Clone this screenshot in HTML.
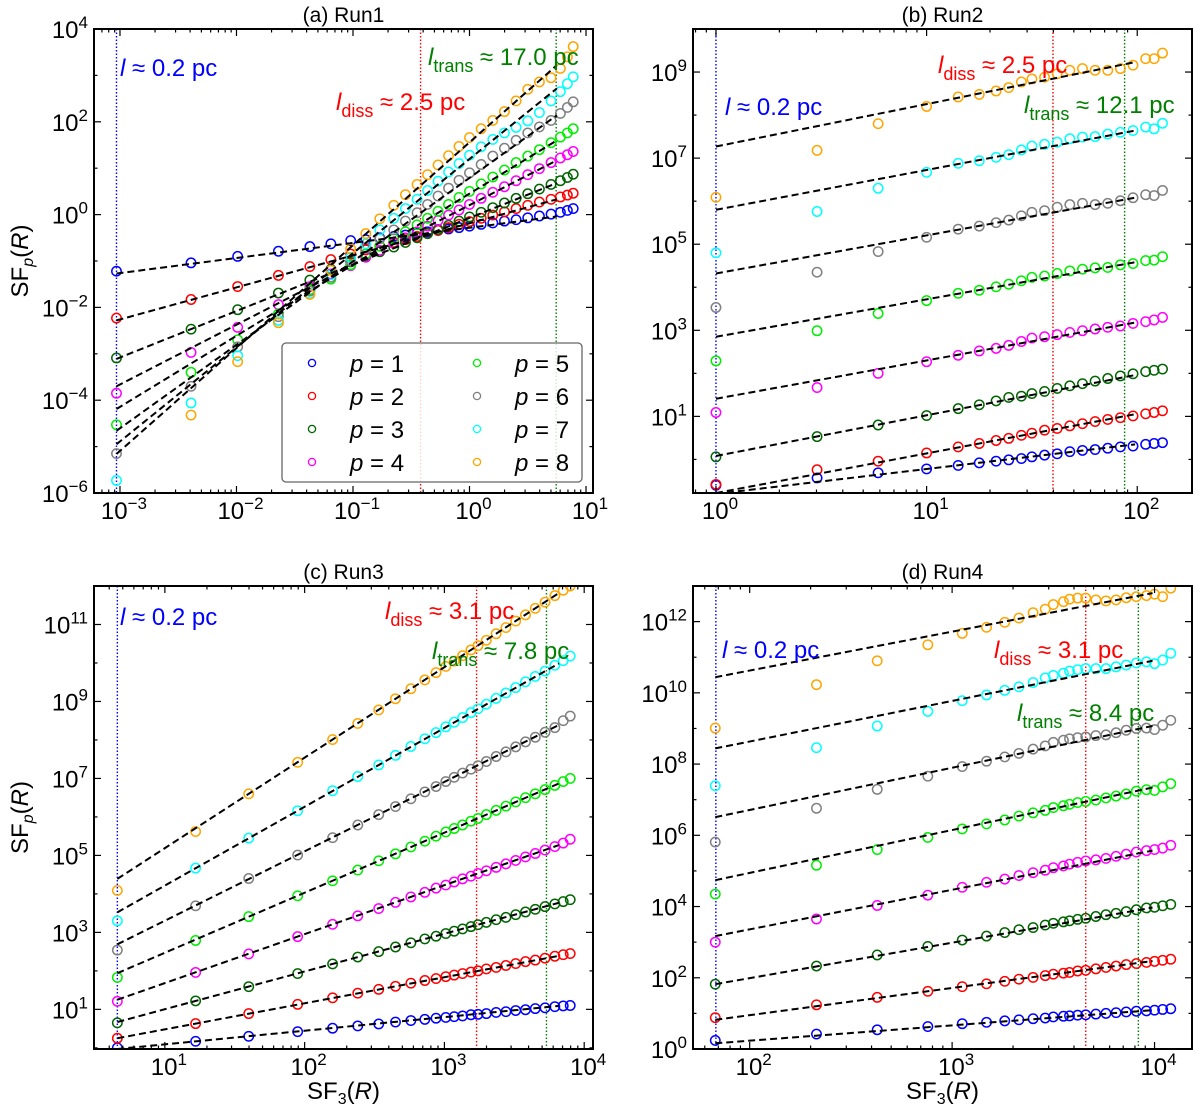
<!DOCTYPE html>
<html><head><meta charset="utf-8"><style>
html,body{margin:0;padding:0;background:#fff;}
svg{display:block;font-family:"Liberation Sans","DejaVu Sans",sans-serif;}
</style></head><body>
<svg id="fig" width="1200" height="1109" viewBox="0 0 1200 1109" xmlns="http://www.w3.org/2000/svg"></svg>
<script>
// ---------- DATA (log10 values) ----------
const colors = ["#0000ff","#ff0000","#006400","#ff00ff","#00ee00","#808080","#00ffff","#ffa500"];
const orders = [1,2,3,4,5,6,7,8];

// Run1
const run1_x = [-3.03,-2.39,-1.99,-1.64,-1.37,-1.19,-1.02,-0.89,-0.77,-0.65,-0.55,-0.45,-0.36,-0.27,-0.18,-0.09,0.0,0.1,0.2,0.3,0.4,0.5,0.6,0.7,0.78,0.84,0.89];
const run1_p1 = [-1.22,-1.04,-0.90,-0.79,-0.69,-0.63,-0.56,-0.54,-0.50,-0.47,-0.44,-0.40,-0.37,-0.34,-0.31,-0.28,-0.25,-0.21,-0.18,-0.14,-0.11,-0.07,-0.03,0.01,0.05,0.09,0.13];
const run1_p2 = [-2.23,-1.83,-1.55,-1.31,-1.12,-0.97,-0.85,-0.76,-0.68,-0.60,-0.54,-0.47,-0.40,-0.34,-0.28,-0.21,-0.15,-0.08,-0.01,0.06,0.13,0.20,0.27,0.33,0.38,0.42,0.46];
const run1_p3 = [-3.09,-2.47,-2.05,-1.69,-1.41,-1.18,-1.02,-0.90,-0.80,-0.70,-0.60,-0.50,-0.41,-0.32,-0.23,-0.14,-0.05,0.05,0.15,0.25,0.35,0.45,0.55,0.65,0.73,0.80,0.87];
const run1_p4 = [-3.85,-2.97,-2.43,-1.94,-1.55,-1.28,-1.10,-0.92,-0.77,-0.62,-0.50,-0.37,-0.25,-0.13,-0.01,0.10,0.22,0.35,0.48,0.60,0.73,0.86,0.99,1.12,1.22,1.29,1.36];
const run1_p5 = [-4.53,-3.40,-2.70,-2.14,-1.62,-1.39,-1.08,-0.85,-0.68,-0.52,-0.37,-0.22,-0.08,0.07,0.22,0.37,0.50,0.66,0.81,0.96,1.12,1.26,1.40,1.55,1.67,1.76,1.85];
const run1_p6 = [-5.15,-3.70,-2.85,-2.20,-1.65,-1.35,-1.00,-0.72,-0.52,-0.33,-0.14,0.04,0.22,0.40,0.57,0.74,0.90,1.08,1.26,1.43,1.60,1.76,1.89,2.03,2.18,2.31,2.43];
const run1_p7 = [-5.73,-4.06,-3.04,-2.28,-1.70,-1.30,-0.92,-0.63,-0.33,-0.08,0.13,0.33,0.52,0.72,0.92,1.10,1.28,1.46,1.62,1.76,1.88,2.02,2.20,2.45,2.65,2.82,2.97];
const run1_p8 = [null,-4.32,-3.17,-2.33,-1.72,-1.20,-0.74,-0.41,-0.09,0.20,0.43,0.65,0.86,1.07,1.27,1.47,1.66,1.85,2.03,2.22,2.45,2.70,2.86,2.95,3.15,3.40,3.62];
const run1_fitX = [-3.03,0.75];
const run1_fitStart = [-1.27,-2.28,-3.11,-3.70,-4.19,-4.66,-4.95,-5.16];
const run1_fitEnd = [-0.04,0.33,0.68,1.17,1.60,2.14,2.72,3.22];

// Run2
const run2_x = [0,0.48,0.77,1.0,1.15,1.25,1.33,1.39,1.45,1.50,1.56,1.62,1.68,1.74,1.80,1.86,1.92,1.98,2.04,2.08,2.12];
const run2_p1 = [-0.60,-0.43,-0.31,-0.22,-0.14,-0.08,-0.04,-0.01,0.02,0.06,0.10,0.13,0.18,0.21,0.23,0.26,0.29,0.31,0.35,0.37,0.39];
const run2_p2 = [-0.58,-0.24,-0.04,0.15,0.29,0.37,0.44,0.49,0.56,0.61,0.68,0.72,0.78,0.83,0.88,0.93,0.97,1.01,1.06,1.09,1.13];
const run2_p3 = [0.06,0.53,0.80,1.02,1.18,1.27,1.36,1.44,1.47,1.53,1.58,1.65,1.71,1.76,1.82,1.88,1.94,1.99,2.04,2.07,2.10];
const run2_p4 = [1.09,1.67,2.00,2.27,2.42,2.52,2.58,2.65,2.74,2.82,2.85,2.90,2.95,2.99,3.03,3.07,3.10,3.16,3.20,3.24,3.30];
const run2_p5 = [2.29,2.99,3.39,3.69,3.86,3.93,4.01,4.07,4.15,4.23,4.26,4.32,4.38,4.42,4.45,4.46,4.52,4.55,4.62,4.63,4.71];
const run2_p6 = [3.53,4.35,4.83,5.16,5.35,5.42,5.50,5.56,5.66,5.74,5.78,5.86,5.92,5.95,5.92,5.95,6.01,6.08,6.15,6.13,6.25];
const run2_p7 = [4.80,5.76,6.30,6.67,6.88,6.94,7.02,7.08,7.19,7.28,7.32,7.37,7.45,7.49,7.50,7.56,7.60,7.64,7.72,7.68,7.81];
const run2_p8 = [6.09,7.18,7.80,8.20,8.42,8.48,8.56,8.64,8.77,8.84,8.88,8.96,9.04,9.08,9.04,9.04,9.08,9.16,9.31,9.31,9.44];
const run2_fitX = [0,1.99];
const run2_fitStart = [-0.80,-0.78,0.08,1.41,2.85,4.32,5.80,7.27];
const run2_fitEnd = [0.35,1.05,1.96,3.18,4.58,6.08,7.64,9.23];

// Run3
const run3_x = [0.66,1.22,1.60,1.95,2.20,2.38,2.53,2.65,2.76,2.86,2.94,3.01,3.07,3.13,3.19,3.24,3.30,3.37,3.44,3.51,3.58,3.65,3.72,3.79,3.85,3.90];
const run3_p1 = [0.00,0.17,0.30,0.42,0.51,0.57,0.62,0.67,0.71,0.74,0.77,0.79,0.81,0.83,0.86,0.87,0.89,0.92,0.94,0.97,0.99,1.02,1.04,1.07,1.09,1.10];
const run3_p2 = [0.25,0.63,0.89,1.13,1.30,1.42,1.52,1.60,1.68,1.75,1.80,1.85,1.89,1.93,1.97,2.00,2.05,2.09,2.14,2.19,2.24,2.28,2.33,2.38,2.42,2.45];
const run3_p3 = [0.65,1.22,1.59,1.93,2.18,2.36,2.50,2.62,2.73,2.83,2.90,2.97,3.03,3.09,3.15,3.20,3.26,3.33,3.39,3.46,3.53,3.60,3.67,3.74,3.80,3.85];
const run3_p4 = [1.21,1.96,2.44,2.89,3.21,3.43,3.62,3.78,3.92,4.04,4.15,4.23,4.31,4.39,4.46,4.53,4.60,4.69,4.78,4.87,4.96,5.05,5.14,5.23,5.32,5.42];
const run3_p5 = [1.83,2.79,3.41,3.95,4.34,4.62,4.86,5.04,5.22,5.37,5.50,5.61,5.70,5.79,5.89,5.96,6.06,6.17,6.28,6.39,6.50,6.60,6.71,6.82,6.92,7.00];
const run3_p6 = [2.54,3.69,4.40,5.01,5.46,5.79,6.06,6.27,6.47,6.65,6.79,6.92,7.03,7.14,7.24,7.33,7.44,7.57,7.69,7.82,7.95,8.07,8.20,8.32,8.50,8.62];
const run3_p7 = [3.30,4.67,5.45,6.16,6.68,7.05,7.35,7.60,7.83,8.03,8.19,8.34,8.46,8.58,8.71,8.81,8.93,9.08,9.22,9.36,9.51,9.65,9.79,9.94,10.06,10.18];
const run3_p8 = [4.09,5.62,6.60,7.42,8.01,8.43,8.78,9.07,9.33,9.56,9.75,9.91,10.05,10.19,10.34,10.45,10.59,10.76,10.92,11.09,11.25,11.42,11.58,11.75,11.89,12.00];
const run3_fitX = [0.66,3.82];
const run3_fitStart = [-0.03,0.25,0.67,1.25,1.94,2.69,3.52,4.39];
const run3_fitEnd = [1.09,2.39,3.77,5.27,6.87,8.39,9.99,11.82];

// Run4
const run4_x = [1.83,2.33,2.63,2.88,3.05,3.17,3.26,3.33,3.40,3.46,3.50,3.55,3.58,3.62,3.66,3.71,3.76,3.81,3.86,3.91,3.96,4.00,4.04,4.08];
const run4_p1 = [0.24,0.42,0.54,0.63,0.71,0.75,0.79,0.82,0.85,0.87,0.90,0.92,0.93,0.95,0.96,0.98,1.00,1.02,1.04,1.06,1.07,1.09,1.11,1.13];
const run4_p2 = [0.88,1.24,1.45,1.62,1.75,1.83,1.90,1.96,2.01,2.06,2.10,2.13,2.15,2.19,2.21,2.25,2.29,2.33,2.37,2.40,2.43,2.46,2.49,2.52];
const run4_p3 = [1.82,2.33,2.64,2.88,3.06,3.17,3.27,3.35,3.41,3.48,3.53,3.57,3.60,3.64,3.67,3.72,3.77,3.81,3.86,3.91,3.96,3.98,4.02,4.06];
const run4_p4 = [3.00,3.65,4.03,4.32,4.54,4.68,4.77,4.87,4.95,5.02,5.09,5.14,5.19,5.24,5.28,5.31,5.35,5.41,5.47,5.53,5.57,5.60,5.64,5.72];
const run4_p5 = [4.35,5.16,5.60,5.94,6.18,6.32,6.43,6.54,6.63,6.70,6.78,6.83,6.87,6.92,6.95,6.99,7.05,7.10,7.16,7.24,7.28,7.26,7.36,7.45];
const run4_p6 = [5.81,6.76,7.29,7.66,7.93,8.08,8.20,8.30,8.42,8.51,8.61,8.67,8.71,8.74,8.76,8.80,8.82,8.88,8.95,9.00,9.01,8.97,9.09,9.23];
const run4_p7 = [7.39,8.46,9.07,9.48,9.78,9.94,10.07,10.17,10.29,10.42,10.49,10.55,10.61,10.65,10.68,10.68,10.68,10.73,10.78,10.84,10.87,10.82,10.92,11.11];
const run4_p8 = [9.01,10.23,10.90,11.35,11.67,11.84,11.98,12.10,12.25,12.35,12.48,12.56,12.63,12.66,12.66,12.61,12.58,12.61,12.67,12.70,12.73,12.77,12.70,12.94];
const run4_fitX = [1.83,3.99];
const run4_fitStart = [0.16,0.82,1.82,3.17,4.74,6.51,8.44,10.44];
const run4_fitEnd = [1.09,2.47,3.97,5.57,7.34,9.07,10.90,12.80];

// scale lines (log10 of SF3)
const run1_vlines = [-3.03,-0.42,0.744];
const run2_vlines = [0,1.6,1.94];
const run3_vlines = [0.66,3.23,3.73];
const run4_vlines = [1.833,3.66,3.92];

// tick label exponents
const run1_xticks = [-3,-2,-1,0,1];
const run1_yticks = [-6,-4,-2,0,2,4];
const run2_xticks = [0,1,2];
const run2_yticks = [1,3,5,7,9];
const run3_xticks = [1,2,3,4];
const run3_yticks = [1,3,5,7,9,11];
const run4_xticks = [2,3,4];
const run4_yticks = [0,2,4,6,8,10,12];

const legendLabels = ["p = 1","p = 2","p = 3","p = 4","p = 5","p = 6","p = 7","p = 8"];

// ---------- LAYOUT ----------
const NS = "http://www.w3.org/2000/svg";
const svg = document.getElementById("fig");
function mk(tag, attrs, parent) {
  const e = document.createElementNS(NS, tag);
  for (const k in attrs) e.setAttribute(k, attrs[k]);
  (parent || svg).appendChild(e);
  return e;
}

const panels = [
  {id:"a", title:"(a) Run1", L:94, R:593, T:29, B:493, xr:[-3.223,1.06], yr:[-6,4],
   x:run1_x, ys:[run1_p1,run1_p2,run1_p3,run1_p4,run1_p5,run1_p6,run1_p7,run1_p8],
   fitX:run1_fitX, fs:run1_fitStart, fe:run1_fitEnd, vl:run1_vlines, xt:run1_xticks, yt:run1_yticks,
   ann:[{t:"blue",x:120,y:76,txt:"0.2"},{t:"trans",x:428,y:65,txt:"17.0"},{t:"diss",x:336,y:110,txt:"2.5"}], ylabel:true, xlabel:false},
  {id:"b", title:"(b) Run2", L:693, R:1192, T:29, B:493, xr:[-0.109,2.26], yr:[-0.78,10],
   x:run2_x, ys:[run2_p1,run2_p2,run2_p3,run2_p4,run2_p5,run2_p6,run2_p7,run2_p8],
   fitX:run2_fitX, fs:run2_fitStart, fe:run2_fitEnd, vl:run2_vlines, xt:run2_xticks, yt:run2_yticks,
   ann:[{t:"blue",x:725,y:115,txt:"0.2"},{t:"diss",x:938,y:73,txt:"2.5"},{t:"trans",x:1024,y:113,txt:"12.1"}], ylabel:false, xlabel:false},
  {id:"c", title:"(c) Run3", L:94, R:593, T:586, B:1049, xr:[0.493,4.063], yr:[-0.03,12],
   x:run3_x, ys:[run3_p1,run3_p2,run3_p3,run3_p4,run3_p5,run3_p6,run3_p7,run3_p8],
   fitX:run3_fitX, fs:run3_fitStart, fe:run3_fitEnd, vl:run3_vlines, xt:run3_xticks, yt:run3_yticks,
   ann:[{t:"blue",x:120,y:625,txt:"0.2"},{t:"diss",x:385,y:619,txt:"3.1"},{t:"trans",x:432,y:659,txt:"7.8"}], ylabel:true, xlabel:true},
  {id:"d", title:"(d) Run4", L:693, R:1192, T:586, B:1049, xr:[1.72,4.185], yr:[0,13],
   x:run4_x, ys:[run4_p1,run4_p2,run4_p3,run4_p4,run4_p5,run4_p6,run4_p7,run4_p8],
   fitX:run4_fitX, fs:run4_fitStart, fe:run4_fitEnd, vl:run4_vlines, xt:run4_xticks, yt:run4_yticks,
   ann:[{t:"blue",x:722,y:658,txt:"0.2"},{t:"diss",x:994,y:658,txt:"3.1"},{t:"trans",x:1017,y:721,txt:"8.4"}], ylabel:false, xlabel:true}
];

const defs = mk("defs", {});

function tickLabel(g, x, y, exp, anchor) {
  const t = mk("text", {x:x, y:y, "font-size":24, fill:"#000", "text-anchor":anchor}, g);
  
  
  const a = mk("tspan", {}, t); a.textContent = "10";
  const b = mk("tspan", {dy:-10, "font-size":17}, t);
  b.textContent = exp < 0 ? "\u2212" + (-exp) : String(exp);
  return t;
}

panels.forEach(P => {
  const g = mk("g", {});
  
  
  const sx = v => P.L + (v - P.xr[0]) / (P.xr[1] - P.xr[0]) * (P.R - P.L);
  const sy = v => P.B - (v - P.yr[0]) / (P.yr[1] - P.yr[0]) * (P.B - P.T);

  const cp = mk("clipPath", {id:"clip-" + P.id}, defs);
  mk("rect", {x:P.L, y:P.T, width:P.R - P.L, height:P.B - P.T}, cp);

  const ti = mk("text", {x:(P.L + P.R) / 2, y:P.T - 7, "font-size":21, "text-anchor":"middle"}, g);
  
  
  ti.textContent = P.title;

  const plot = mk("g", {"clip-path":"url(#clip-" + P.id + ")"}, g);
  
  

  const vcol = ["#0000ff", "#ff0000", "#008000"];
  const vnames = ["resolution-scale-line", "dissipation-scale-line", "transition-scale-line"];
  P.vl.forEach((v, i) => {
    const l = mk("line", {x1:sx(v), x2:sx(v), y1:P.T, y2:P.B, stroke:vcol[i], "stroke-width":1.4, "stroke-dasharray":"1.5,2"}, plot);
    
    
  });

  P.ys.forEach((arr, si) => {
    const sg = mk("g", {fill:"none", stroke:colors[si], "stroke-width":1.5}, plot);
    
    
    arr.forEach((v, i) => {
      if (v === null) return;
      const c = mk("circle", {cx:sx(P.x[i]), cy:sy(v), r:4.7}, sg);
      
      
    });
  });

  P.fs.forEach((v, si) => {
    const l = mk("line", {x1:sx(P.fitX[0]), y1:sy(v), x2:sx(P.fitX[1]), y2:sy(P.fe[si]), stroke:"#000", "stroke-width":2, "stroke-dasharray":"7,4"}, plot);
    
    
  });

  const fr = mk("rect", {x:P.L, y:P.T, width:P.R - P.L, height:P.B - P.T, fill:"none", stroke:"#000", "stroke-width":2}, g);
  
  

  const tg = mk("g", {stroke:"#000", "stroke-width":1.2}, g);
  
  
  for (let d = Math.floor(P.xr[0]); d <= Math.ceil(P.xr[1]); d++) {
    for (let m = 1; m <= 9; m++) {
      const v = d + Math.log10(m);
      if (v < P.xr[0] || v > P.xr[1]) continue;
      const len = m === 1 ? 7 : 3.5;
      const X = sx(v);
      mk("line", {x1:X, x2:X, y1:P.B, y2:P.B - len}, tg);
      mk("line", {x1:X, x2:X, y1:P.T, y2:P.T + len}, tg);
    }
  }
  P.xt.forEach(e => tickLabel(g, sx(e) + 4, P.B + 26, e, "middle"));
  for (let d = Math.ceil(P.yr[0]); d <= Math.floor(P.yr[1]); d++) {
    const Y = sy(d);
    const len = P.yt.includes(d) ? 7 : 3.5;
    mk("line", {x1:P.L, x2:P.L + len, y1:Y, y2:Y}, tg);
    mk("line", {x1:P.R, x2:P.R - len, y1:Y, y2:Y}, tg);
  }
  P.yt.forEach(e => tickLabel(g, P.L - 6, sy(e) + 9, e, "end"));

  P.ann.forEach(a => {
    const col = a.t === "blue" ? "#0000ff" : (a.t === "diss" ? "#ff0000" : "#008000");
    const t = mk("text", {x:a.x, y:a.y, "font-size":24, fill:col}, g);
    
    
    const s1 = mk("tspan", {"font-style":"italic"}, t); s1.textContent = "l";
    if (a.t !== "blue") {
      const s2 = mk("tspan", {dy:7, "font-size":18}, t); s2.textContent = a.t;
      const s3 = mk("tspan", {dy:-7}, t); s3.textContent = " \u2248 " + a.txt + " pc";
    } else {
      const s3 = mk("tspan", {}, t); s3.textContent = " \u2248 " + a.txt + " pc";
    }
  });

  if (P.ylabel) {
    const cy = (P.T + P.B) / 2;
    const yl = mk("text", {x:0, y:0, "font-size":24, "text-anchor":"middle", transform:"translate(28," + cy + ") rotate(-90)"}, g);
    
    
    const a1 = mk("tspan", {}, yl); a1.textContent = "SF";
    const a2 = mk("tspan", {dy:5, "font-size":16, "font-style":"italic"}, yl); a2.textContent = "p";
    const a3 = mk("tspan", {dy:-5}, yl); a3.textContent = "(";
    const a4 = mk("tspan", {"font-style":"italic"}, yl); a4.textContent = "R";
    const a5 = mk("tspan", {}, yl); a5.textContent = ")";
  }
  if (P.xlabel) {
    const xl = mk("text", {x:(P.L + P.R) / 2, y:1099, "font-size":24, "text-anchor":"middle"}, g);
    
    
    const a1 = mk("tspan", {}, xl); a1.textContent = "SF";
    const a2 = mk("tspan", {dy:5, "font-size":16}, xl); a2.textContent = "3";
    const a3 = mk("tspan", {dy:-5}, xl); a3.textContent = "(";
    const a4 = mk("tspan", {"font-style":"italic"}, xl); a4.textContent = "R";
    const a5 = mk("tspan", {}, xl); a5.textContent = ")";
  }

  if (P.id === "a") {
    const lg = mk("g", {}, g);
    
    
    mk("rect", {x:282, y:343, width:300, height:139, rx:4, fill:"#fff", "fill-opacity":0.82, stroke:"#666", "stroke-width":1.3}, lg);
    legendLabels.forEach((lab, i) => {
      const col = Math.floor(i / 4), row = i % 4;
      const mx = col === 0 ? 312 : 477, tx = col === 0 ? 350 : 515;
      const cy = 363 + row * 33;
      const en = mk("g", {}, lg);
      
      
      mk("circle", {cx:mx, cy:cy, r:3.6, fill:"none", stroke:colors[i], "stroke-width":1.3}, en);
      const t = mk("text", {x:tx, y:cy + 9, "font-size":24}, en);
      const p1 = mk("tspan", {"font-style":"italic"}, t); p1.textContent = "p";
      const p2 = mk("tspan", {}, t); p2.textContent = " = " + orders[i];
    });
  }
});
</script>
</body></html>
